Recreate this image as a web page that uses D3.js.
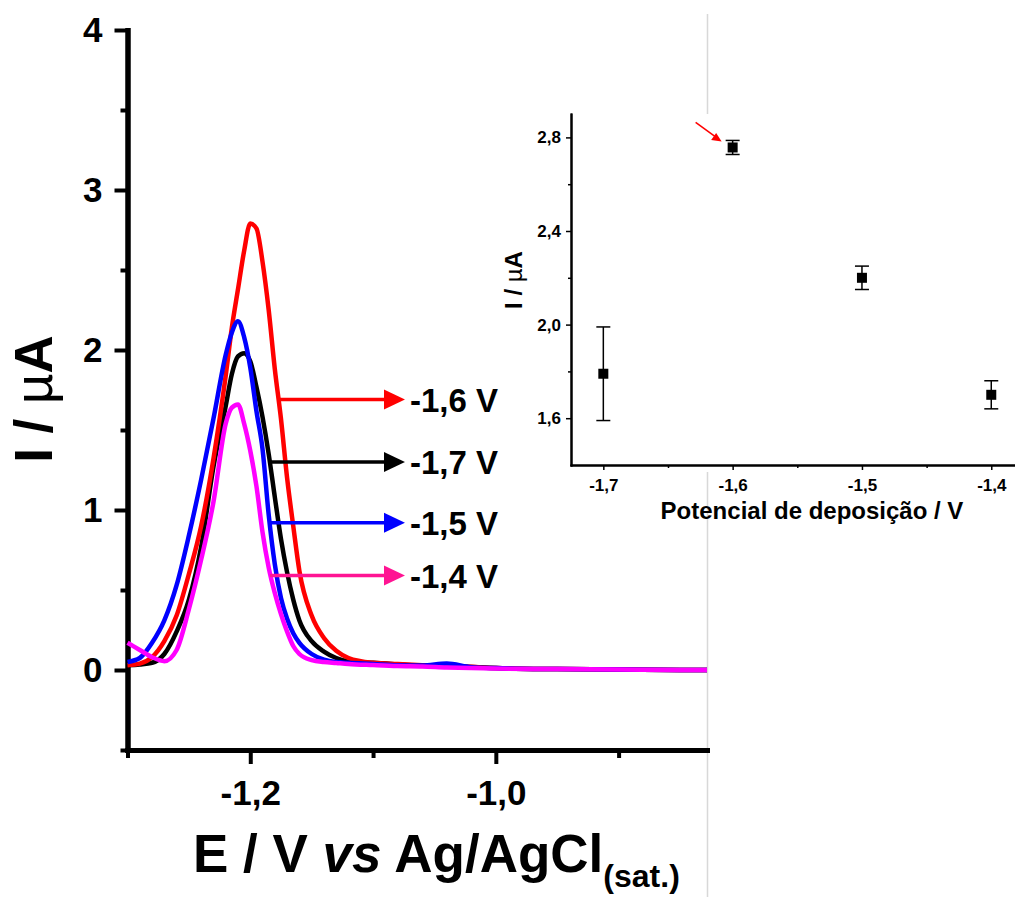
<!DOCTYPE html>
<html>
<head>
<meta charset="utf-8">
<script src="https://cdn.jsdelivr.net/npm/d3@7"></script>
<style>
  body { margin: 0; background: #fff; }
  text { font-family: "Liberation Sans", Arial, sans-serif; font-weight: bold; }
</style>
</head>
<body>
<svg id="chart" width="1015" height="897"></svg>
<script>
// main voltammograms: potential grid (V) and current (uA) for each deposition potential
var potential = [-1.300,-1.290,-1.280,-1.270,-1.260,-1.250,-1.240,-1.230,-1.220,-1.215,-1.210,-1.205,-1.200,-1.195,-1.190,-1.185,-1.180,-1.175,-1.170,-1.165,-1.160,-1.150,-1.140,-1.130,-1.120,-1.100,-1.080,-1.060,-1.040,-1.020,-1.000,-0.950,-0.900,-0.850,-0.828];
var curr16 = [0.03,0.04,0.08,0.18,0.34,0.60,0.90,1.32,1.84,2.14,2.38,2.62,2.79,2.76,2.55,2.25,1.88,1.57,1.20,0.90,0.62,0.34,0.20,0.12,0.075,0.045,0.037,0.03,0.025,0.02,0.012,0.006,0.003,0,0];
var curr17 = [0.03,0.035,0.045,0.10,0.24,0.44,0.77,1.27,1.65,1.85,1.96,1.98,1.93,1.77,1.58,1.35,1.08,0.82,0.61,0.44,0.31,0.18,0.115,0.075,0.055,0.045,0.035,0.028,0.022,0.018,0.012,0.006,0.003,0,0];
var curr15 = [0.05,0.075,0.17,0.31,0.53,0.84,1.19,1.57,1.97,2.11,2.18,2.08,1.89,1.62,1.38,0.97,0.66,0.45,0.32,0.23,0.17,0.10,0.065,0.05,0.045,0.038,0.03,0.028,0.04,0.018,0.012,0.006,0.003,0,0];
var curr14 = [0.17,0.125,0.08,0.055,0.125,0.38,0.69,1.05,1.54,1.64,1.66,1.54,1.37,1.15,0.86,0.64,0.48,0.35,0.24,0.15,0.10,0.062,0.05,0.044,0.038,0.031,0.025,0.022,0.016,0.012,0.009,0.006,0.003,0,0];

// arrow labels next to the peaks
var labelText = ["-1,6 V", "-1,7 V", "-1,5 V", "-1,4 V"];
var labelI = [1.69, 1.30, 0.92, 0.59];
var arrowStartE = [-1.176, -1.183, -1.184, -1.184];
var arrowEndE = -1.074;

// inset: peak current vs deposition potential
var depPotential = [-1.7, -1.6, -1.5, -1.4];
var peakCurrent = [1.79, 2.757, 2.20, 1.70];
var peakError = [0.20, 0.03, 0.05, 0.06];

var yMajor = [0, 1, 2, 3, 4], yMinor = [-0.5, 0.5, 1.5, 2.5, 3.5];
var xMajor = [-1.2, -1.0], xMinor = [-1.3, -1.1, -0.9];
var insetYMajor = [1.6, 2.0, 2.4, 2.8], insetYMinor = [1.8, 2.2, 2.6];
var insetXMajor = [-1.7, -1.6, -1.5, -1.4], insetXMinor = [-1.65, -1.55, -1.45];

var svg = d3.select("#chart");
var comma = function(d) { return d.toFixed(1).replace(".", ","); };

// faint edge of the original plot picture
svg.append("line")
    .attr("x1", 707.5).attr("x2", 707.5).attr("y1", 14).attr("y2", 897)
    .attr("stroke", "#d8d8d8").attr("stroke-width", 1.5);

// Main scales
var x = d3.scaleLinear().domain([-1.3, -0.828]).range([127.5, 707]);
var y = d3.scaleLinear().domain([-0.5, 4]).range([750, 30]);

function styleAxis(g, fs, w, tw) {
    g.select(".domain").attr("stroke-width", w).attr("stroke-linecap", "square");
    g.selectAll(".tick line").attr("stroke-width", tw);
    g.selectAll("text").style("font-size", fs + "px").attr("fill", "#000");
}

// Y axis
svg.append("g").attr("transform", "translate(127.5,0)")
    .call(d3.axisLeft(y).tickValues(yMinor).tickSize(7).tickSizeOuter(0).tickFormat(""))
    .call(function(g) { styleAxis(g, 35, 5, 4); });
svg.append("g").attr("transform", "translate(127.5,0)")
    .call(d3.axisLeft(y).tickValues(yMajor).tickSize(13).tickSizeOuter(0).tickPadding(12).tickFormat(d3.format("d")))
    .call(function(g) { styleAxis(g, 35, 5, 4); });

// X axis
svg.append("g").attr("transform", "translate(0,750)")
    .call(d3.axisBottom(x).tickValues(xMinor).tickSize(8).tickSizeOuter(0).tickFormat(""))
    .call(function(g) { styleAxis(g, 35, 5, 4); });
svg.append("g").attr("transform", "translate(0,750)")
    .call(d3.axisBottom(x).tickValues(xMajor).tickSize(14).tickSizeOuter(0).tickPadding(16).tickFormat(comma))
    .call(function(g) { styleAxis(g, 35, 5, 4); });

// Curves
var line = d3.line()
    .x(function(d) { return x(d[0]); })
    .y(function(d) { return y(d[1]); })
    .curve(d3.curveMonotoneX);

var series = [
    { vals: curr17, color: "#000000" },
    { vals: curr16, color: "#ff0000" },
    { vals: curr15, color: "#0000ff" },
    { vals: curr14, color: "#ff00ff" }
];
series.forEach(function(s) {
    svg.append("path")
        .datum(potential.map(function(e, i) { return [e, s.vals[i]]; }))
        .attr("d", line)
        .attr("fill", "none")
        .attr("stroke", s.color)
        .attr("stroke-width", 4.5)
        .attr("stroke-linejoin", "round");
});

// Arrows and labels
var arrowColor = ["#ff0000", "#000000", "#0000ff", "#ff1493"];
labelText.forEach(function(t, i) {
    var yy = y(labelI[i]), xe = x(arrowEndE);
    svg.append("line")
        .attr("x1", x(arrowStartE[i])).attr("x2", xe - 12)
        .attr("y1", yy).attr("y2", yy)
        .attr("stroke", arrowColor[i]).attr("stroke-width", 3.5);
    svg.append("path")
        .attr("d", "M" + (xe - 21) + "," + (yy - 10) + "L" + xe + "," + yy + "L" + (xe - 21) + "," + (yy + 10) + "Z")
        .attr("fill", arrowColor[i]);
    svg.append("text")
        .attr("x", xe + 5).attr("y", yy + 12)
        .style("font-size", "33px")
        .text(t);
});

// Axis titles
svg.append("text")
    .attr("transform", "translate(52,399) rotate(-90)")
    .attr("text-anchor", "middle")
    .style("font-size", "53px")
    .call(function(t) {
        t.append("tspan").text("I / ");
        t.append("tspan").style("font-weight", "normal").text("\u00b5");
        t.append("tspan").text("A");
    });

svg.append("text")
    .attr("x", 193).attr("y", 872)
    .style("font-size", "53px")
    .call(function(t) {
        t.append("tspan").text("E / V ");
        t.append("tspan").style("font-style", "italic").text("vs");
        t.append("tspan").text(" Ag/AgCl");
        t.append("tspan").attr("dy", 15).style("font-size", "32px").text("(sat.)");
    });

// Inset
var xi = d3.scaleLinear().domain([-1.725, -1.375]).range([571, 1023.6]);
var yi = d3.scaleLinear().domain([1.4, 2.9]).range([465, 114]);

svg.append("rect")
    .attr("x", 571).attr("y", 114).attr("width", 444).attr("height", 358)
    .attr("fill", "#fff");

svg.append("g").attr("transform", "translate(571,0)")
    .call(d3.axisLeft(yi).tickValues(insetYMinor).tickSize(3).tickSizeOuter(0).tickFormat(""))
    .call(function(g) { styleAxis(g, 17, 2, 1.5); });
svg.append("g").attr("transform", "translate(571,0)")
    .call(d3.axisLeft(yi).tickValues(insetYMajor).tickSize(5).tickSizeOuter(0).tickPadding(5).tickFormat(comma))
    .call(function(g) { styleAxis(g, 17, 2, 1.5); });
svg.append("g").attr("transform", "translate(0,465)")
    .call(d3.axisBottom(xi).tickValues(insetXMinor).tickSize(3).tickSizeOuter(0).tickFormat(""))
    .call(function(g) { styleAxis(g, 17, 2, 1.5); });
svg.append("g").attr("transform", "translate(0,465)")
    .call(d3.axisBottom(xi).tickValues(insetXMajor).tickSize(5).tickSizeOuter(0).tickPadding(9).tickFormat(comma))
    .call(function(g) { styleAxis(g, 17, 2, 1.5); });

var pts = depPotential.map(function(v, i) { return { x: v, y: peakCurrent[i], e: peakError[i] }; });

var eb = svg.append("g").attr("stroke", "#000").attr("stroke-width", 1.5);
pts.forEach(function(p) {
    var cx = xi(p.x);
    eb.append("line").attr("x1", cx).attr("x2", cx).attr("y1", yi(p.y - p.e)).attr("y2", yi(p.y + p.e));
    eb.append("line").attr("x1", cx - 7).attr("x2", cx + 7).attr("y1", yi(p.y - p.e)).attr("y2", yi(p.y - p.e));
    eb.append("line").attr("x1", cx - 7).attr("x2", cx + 7).attr("y1", yi(p.y + p.e)).attr("y2", yi(p.y + p.e));
});
svg.selectAll(".sq").data(pts).enter().append("rect")
    .attr("x", function(d) { return xi(d.x) - 5; })
    .attr("y", function(d) { return yi(d.y) - 5; })
    .attr("width", 10).attr("height", 10)
    .attr("fill", "#000");

// red arrow pointing at the best deposition potential
var ax = xi(-1.6) - 11, ay = yi(2.757) - 6;
svg.append("line")
    .attr("x1", ax - 26).attr("y1", ay - 19).attr("x2", ax - 4).attr("y2", ay - 3)
    .attr("stroke", "#ff0000").attr("stroke-width", 1.5);
svg.append("path")
    .attr("d", "M" + ax + "," + ay + "L" + (ax - 10.5) + "," + (ay - 1.5) + "L" + (ax - 5.5) + "," + (ay - 8.5) + "Z")
    .attr("fill", "#ff0000");

svg.append("text")
    .attr("transform", "translate(522,280) rotate(-90)")
    .attr("text-anchor", "middle")
    .style("font-size", "24px")
    .call(function(t) {
        t.append("tspan").text("I / ");
        t.append("tspan").style("font-weight", "normal").text("\u00b5");
        t.append("tspan").text("A");
    });

svg.append("text")
    .attr("x", 812).attr("y", 519)
    .attr("text-anchor", "middle")
    .style("font-size", "24px")
    .text("Potencial de deposição / V");
</script>
</body>
</html>
